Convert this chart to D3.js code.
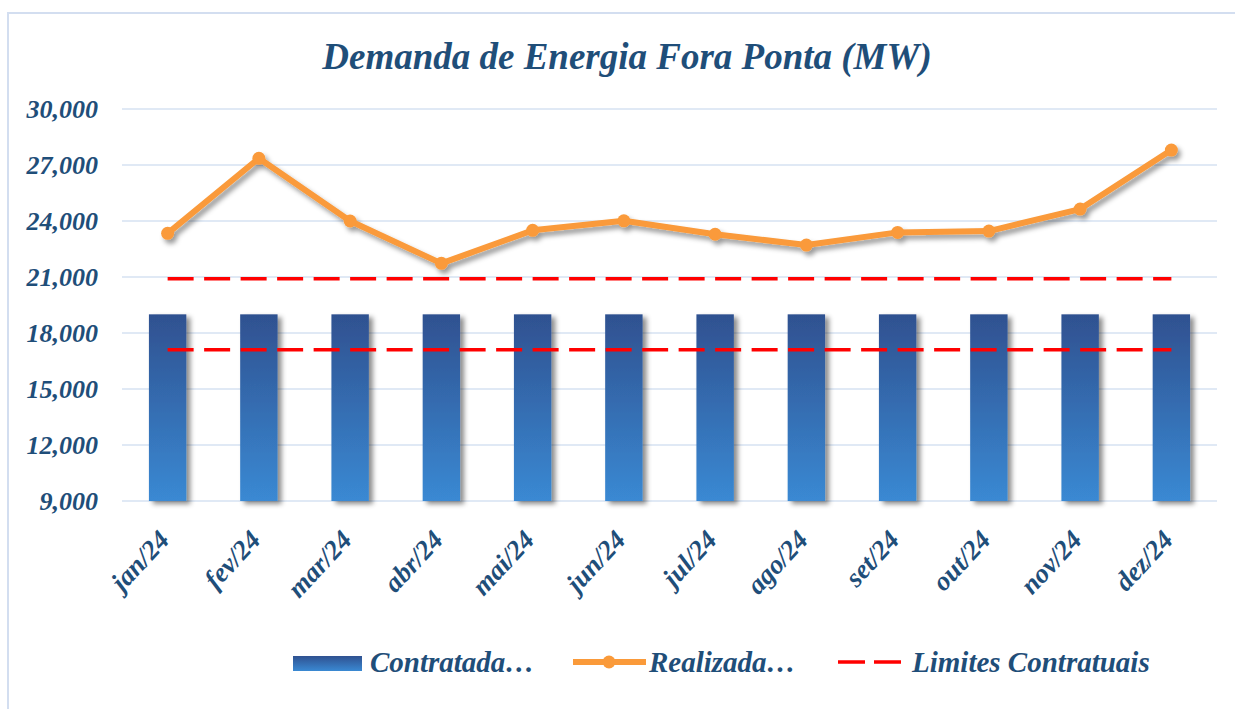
<!DOCTYPE html>
<html lang="pt">
<head>
<meta charset="UTF-8">
<title>Demanda de Energia Fora Ponta</title>
<style>
  html, body { margin: 0; padding: 0; background: #fff; }
  svg text { font-family: "Liberation Serif", "Times New Roman", serif; font-weight: bold; font-style: italic; fill: #1f4e79; }
</style>
</head>
<body>
<svg id="chart" width="1235" height="709"></svg>
<script src="https://cdn.jsdelivr.net/npm/d3@7"></script>
<script>
// data
var months = ["jan/24", "fev/24", "mar/24", "abr/24", "mai/24", "jun/24",
              "jul/24", "ago/24", "set/24", "out/24", "nov/24", "dez/24"];
var contratada = [19000, 19000, 19000, 19000, 19000, 19000, 19000, 19000, 19000, 19000, 19000, 19000];
var realizada = [23340, 27360, 24000, 21730, 23500, 24010, 23290, 22710, 23390, 23460, 24640, 27800];
var limites = [20900, 17100];
var yTicks = [9000, 12000, 15000, 18000, 21000, 24000, 27000, 30000];

var svg = d3.select("#chart"),
    margin = {top: 109, right: 18, bottom: 208, left: 122},
    width = 1235 - margin.left - margin.right,
    height = 709 - margin.top - margin.bottom;

var defs = svg.append("defs");
var grad = defs.append("linearGradient")
    .attr("id", "barGrad").attr("x1", 0).attr("y1", 0).attr("x2", 0).attr("y2", 1);
grad.append("stop").attr("offset", "0%").attr("stop-color", "#2f5190");
grad.append("stop").attr("offset", "100%").attr("stop-color", "#3a89d3");

var shadow = defs.append("filter").attr("id", "shadow")
    .attr("x", "-20%").attr("y", "-20%").attr("width", "160%").attr("height", "160%");
shadow.append("feDropShadow")
    .attr("dx", 4).attr("dy", 3).attr("stdDeviation", 2.5)
    .attr("flood-color", "#000").attr("flood-opacity", 0.45);

var lineShadow = defs.append("filter").attr("id", "lineShadow")
    .attr("x", "-10%").attr("y", "-30%").attr("width", "120%").attr("height", "160%");
lineShadow.append("feDropShadow")
    .attr("dx", 3).attr("dy", 4).attr("stdDeviation", 2.5)
    .attr("flood-color", "#000").attr("flood-opacity", 0.4);

// outer frame
svg.append("rect")
    .attr("x", 8).attr("y", 13).attr("width", 1240).attr("height", 710)
    .attr("fill", "none").attr("stroke", "#d3def0").attr("stroke-width", 2);

svg.append("text")
    .attr("x", 627).attr("y", 69)
    .attr("text-anchor", "middle")
    .style("font-size", "37px")
    .text("Demanda de Energia Fora Ponta (MW)");

var x = d3.scaleBand().domain(months).range([0, width]).paddingInner(0.59).paddingOuter(0.295);
var y = d3.scaleLinear().domain([9000, 30000]).range([height, 0]);

var g = svg.append("g")
    .attr("transform", "translate(" + margin.left + "," + margin.top + ")");

// gridlines
g.selectAll(".grid")
    .data(yTicks)
    .enter().append("line")
    .attr("x1", 0).attr("x2", width)
    .attr("y1", function(d) { return y(d); })
    .attr("y2", function(d) { return y(d); })
    .attr("stroke", "#d6e2f2").attr("stroke-width", 1.5);

// y axis labels
g.selectAll(".ylab")
    .data(yTicks)
    .enter().append("text")
    .attr("x", -24)
    .attr("y", function(d) { return y(d); })
    .attr("dy", "0.33em")
    .attr("text-anchor", "end")
    .style("font-size", "26px")
    .text(function(d) { return d3.format(",")(d); });

// bars
g.selectAll(".bar")
    .data(contratada)
    .enter().append("rect")
    .attr("x", function(d, i) { return x(months[i]); })
    .attr("y", function(d) { return y(d); })
    .attr("width", x.bandwidth())
    .attr("height", function(d) { return height - y(d); })
    .attr("fill", "url(#barGrad)")
    .attr("filter", "url(#shadow)");

var cx = function(i) { return x(months[i]) + x.bandwidth() / 2; };

// contractual limits
limites.forEach(function(v) {
    g.append("path")
        .datum(months)
        .attr("fill", "none")
        .attr("stroke", "#ff0000")
        .attr("stroke-width", 3.5)
        .attr("stroke-dasharray", "26,10.5")
        .attr("d", d3.line().x(function(d, i) { return cx(i); }).y(function() { return y(v); }));
});

// realizada line
var lg = g.append("g").attr("filter", "url(#lineShadow)");
lg.append("path")
    .datum(realizada)
    .attr("fill", "none")
    .attr("stroke", "#fa9a3a")
    .attr("stroke-width", 6)
    .attr("stroke-linejoin", "round")
    .attr("d", d3.line().x(function(d, i) { return cx(i); }).y(function(d) { return y(d); }));
lg.selectAll("circle")
    .data(realizada)
    .enter().append("circle")
    .attr("cx", function(d, i) { return cx(i); })
    .attr("cy", function(d) { return y(d); })
    .attr("r", 6.5)
    .attr("fill", "#fa9a3a");

// x labels
g.selectAll(".xlab")
    .data(months)
    .enter().append("text")
    .attr("text-anchor", "end")
    .attr("transform", function(d, i) { return "translate(" + (cx(i) + 3) + "," + (height + 40) + ") rotate(-47)"; })
    .style("font-size", "27px")
    .text(function(d) { return d; });

// legend
var leg = svg.append("g");
leg.append("rect")
    .attr("x", 293).attr("y", 656).attr("width", 69).attr("height", 15)
    .attr("fill", "url(#barGrad)");
leg.append("text").attr("x", 370).attr("y", 672).style("font-size", "29px").text("Contratada…");

leg.append("line")
    .attr("x1", 573).attr("x2", 646).attr("y1", 662).attr("y2", 662)
    .attr("stroke", "#fa9a3a").attr("stroke-width", 6);
leg.append("circle").attr("cx", 609).attr("cy", 662).attr("r", 6.5).attr("fill", "#fa9a3a");
leg.append("text").attr("x", 649).attr("y", 672).style("font-size", "29px").text("Realizada…");

leg.append("line")
    .attr("x1", 838).attr("x2", 901).attr("y1", 662).attr("y2", 662)
    .attr("stroke", "#ff0000").attr("stroke-width", 3.5)
    .attr("stroke-dasharray", "27,9");
leg.append("text").attr("x", 912).attr("y", 672).style("font-size", "29px").text("Limites Contratuais");
</script>
</body>
</html>
